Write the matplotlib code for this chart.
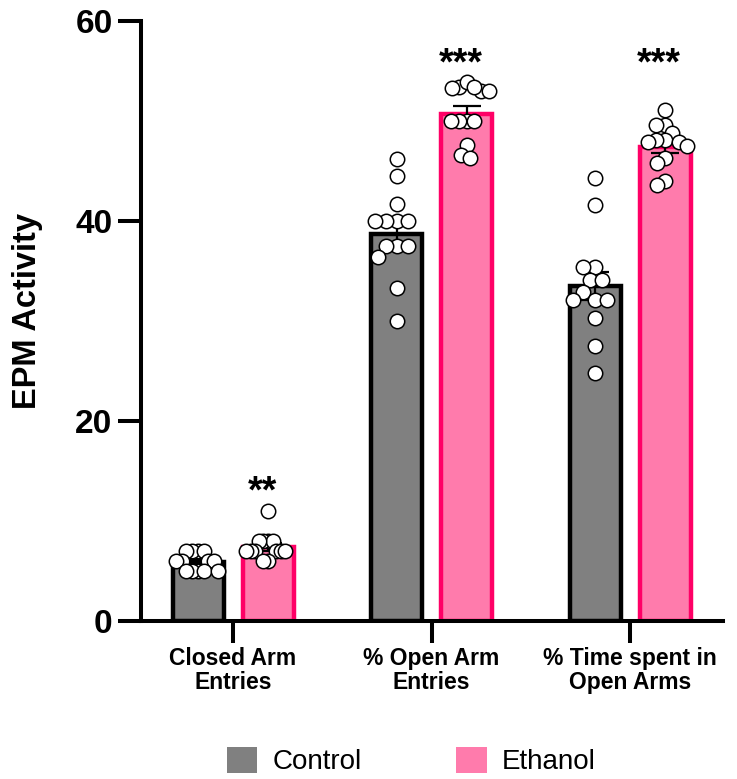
import numpy as np
import matplotlib
matplotlib.use("Agg")
import matplotlib.pyplot as plt
from matplotlib.patches import Patch

plt.rcParams['font.family'] = ['Liberation Sans', 'DejaVu Sans']

# ---------------- data ----------------
categories = ["Closed Arm\nEntries", "% Open Arm\nEntries", "% Time spent in\nOpen Arms"]
groups = ["Control", "Ethanol"]

control_means = [5.9, 38.7, 33.5]
ethanol_means = [7.4, 50.7, 47.4]
control_sem = [0.25, 1.2, 1.4]
ethanol_sem = [0.4, 0.8, 0.6]

control_closed = [7, 7, 7, 7, 6, 6, 6, 6, 5, 5, 5, 5, 5]
ethanol_closed = [11, 8, 8, 8, 8, 7, 7, 7, 7, 7, 7, 6, 6]
control_open = [46.2, 44.5, 41.7, 40.0, 40.0, 40.0, 40.0, 37.5, 37.5, 37.5, 36.4, 33.3, 30.0]
ethanol_open = [53.0, 53.4, 53.9, 53.0, 53.4, 53.3, 50.0, 50.0, 50.0, 50.0, 47.6, 46.6, 46.3]
control_time = [44.3, 41.6, 35.4, 35.4, 34.1, 34.1, 32.9, 32.1, 32.1, 32.1, 30.3, 27.5, 24.8]
ethanol_time = [51.1, 49.6, 49.6, 48.8, 48.1, 48.1, 47.9, 47.9, 47.5, 46.3, 45.8, 44.0, 43.6]

control_points = [control_closed, control_open, control_time]
ethanol_points = [ethanol_closed, ethanol_open, ethanol_time]

significance = ["**", "***", "***"]
sig_y = [11.9, 54.7, 54.7]

yticks = [0, 20, 40, 60]

# ---------------- style ----------------
gray_fill, gray_edge = "#808080", "#000000"
pink_fill, pink_edge = "#FF7BAC", "#FF0066"

W, H = 737, 779
fig = plt.figure(figsize=(W / 100, H / 100), dpi=100)
ax = fig.add_axes([141 / W, 158 / H, (723 - 141) / W, 600 / H])

xmin, xmax = -0.4635, 2.4685
ax.set_xlim(xmin, xmax)
ax.set_ylim(0, 60)

px_per_x = (723 - 141) / (xmax - xmin)
px_per_y = 600 / 60.0

off = 35.0 / px_per_x
bw = 51.0 / px_per_x
pos = np.arange(len(categories))


def swarm(vals, d=14.5, max_half=22.0):
    ys = np.asarray(vals, float) * px_per_y
    xs = np.zeros(len(ys))
    placed = []
    for i in np.argsort(-ys, kind="stable"):
        y = ys[i]
        cands = [0.0]
        for xj, yj in placed:
            dy = y - yj
            if abs(dy) < d:
                dx = np.sqrt(d * d - dy * dy)
                cands += [xj + dx, xj - dx]
        cands.sort(key=lambda c: (abs(c), c))
        for c in cands:
            if all((c - xj) ** 2 + (y - yj) ** 2 >= d * d - 1e-6 for xj, yj in placed):
                xs[i] = c
                break
        placed.append((xs[i], y))
    m = np.max(np.abs(xs))
    if m > max_half:
        xs *= max_half / m
    return xs / px_per_x


for sign, means, sems, pts, fc, ec in [
    (-1, control_means, control_sem, control_points, gray_fill, gray_edge),
    (1, ethanol_means, ethanol_sem, ethanol_points, pink_fill, pink_edge),
]:
    xc = pos + sign * off
    ax.bar(xc, means, width=bw, color=fc, edgecolor=ec, linewidth=3.2, zorder=2)
    ax.errorbar(xc, means, yerr=sems, fmt="none", ecolor="black",
                elinewidth=1.6, capsize=10, capthick=1.6, zorder=3)
    for k, vals in enumerate(pts):
        xo = swarm(vals)
        ax.scatter(xc[k] + xo, vals, s=108, facecolor="white", edgecolor="black",
                   linewidths=1.1, zorder=4, clip_on=False)

for k, s in enumerate(significance):
    ax.text(pos[k] + off - 6 / px_per_x, sig_y[k], s, ha="center", va="baseline",
            fontsize=27, fontweight="bold")

for side in ["top", "right"]:
    ax.spines[side].set_visible(False)
for side in ["left", "bottom"]:
    ax.spines[side].set_linewidth(2.9)

ax.set_yticks(yticks)
ax.set_yticklabels([str(v) for v in yticks], fontsize=24, fontweight="bold")
ax.tick_params(axis="y", length=16.5, width=2.9, pad=4)
ax.set_xticks(pos)
ax.set_xticklabels(categories, fontsize=16.5, fontweight="bold", linespacing=1.05)
ax.tick_params(axis="x", length=16, width=2.9, pad=3)

fig.text(28 / W, 1 - 311 / H, "EPM Activity", rotation=90, ha="center", va="center",
         fontsize=23.5, fontweight="bold")

handles = [Patch(facecolor=gray_fill, edgecolor="none"),
           Patch(facecolor=pink_fill, edgecolor="none")]
fig.legend(handles, groups, loc="center", bbox_to_anchor=(0.558, 1 - 761 / H),
           ncol=2, frameon=False, fontsize=20, handlelength=1.1, handleheight=1.1,
           handletextpad=0.54, columnspacing=3.4, borderpad=0, borderaxespad=0)

fig.savefig("out.png", dpi=100)
